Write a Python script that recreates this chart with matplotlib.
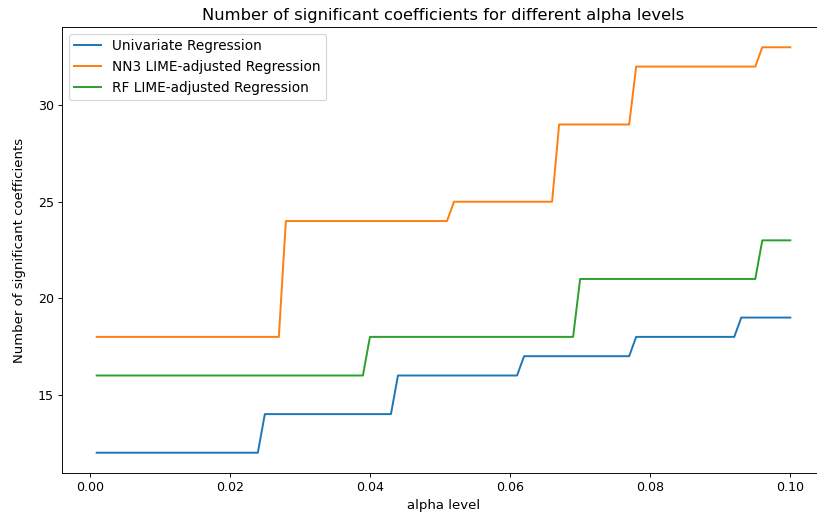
import numpy as np
import matplotlib
matplotlib.use("Agg")
import matplotlib.pyplot as plt

# alpha levels tested: 0.001 .. 0.100 in steps of 0.001
alpha_levels = np.round(np.arange(1, 101) / 1000, 3)

# step changes: first alpha of each level, and the count at that level
uni_starts = [0.001, 0.025, 0.044, 0.062, 0.078, 0.093]
uni_counts = [12, 14, 16, 17, 18, 19]

nn3_starts = [0.001, 0.028, 0.052, 0.067, 0.078, 0.096]
nn3_counts = [18, 24, 25, 29, 32, 33]

rf_starts = [0.001, 0.040, 0.070, 0.096]
rf_counts = [16, 18, 21, 23]


def expand_steps(starts, counts):
    idx = np.searchsorted(starts, alpha_levels + 1e-9) - 1
    return np.array(counts)[idx]


DPI = 83
W, H = 817, 517
fig = plt.figure(figsize=(W / DPI, H / DPI), dpi=DPI)
# the right spine sits just past the image edge in the original
ax = fig.add_axes([62 / W, 1 - 473 / H, (825 - 62) / W, (473 - 27) / H])
ax.spines["right"].set_visible(False)

lw = 1.7
ax.plot(alpha_levels, expand_steps(uni_starts, uni_counts), lw=lw, label="Univariate Regression")
ax.plot(alpha_levels, expand_steps(nn3_starts, nn3_counts), lw=lw, label="NN3 LIME-adjusted Regression")
ax.plot(alpha_levels, expand_steps(rf_starts, rf_counts), lw=lw, label="RF LIME-adjusted Regression")

ax.set_title("Number of significant coefficients for different alpha levels", fontsize=14.2)
ax.set_xlabel("alpha level", fontsize=11.5)
ax.set_ylabel("Number of significant coefficients", fontsize=11.5, labelpad=10)
ax.tick_params(labelsize=11)
ax.legend(loc="upper left", fontsize=11.8)

fig.savefig("out.png", dpi=DPI)
